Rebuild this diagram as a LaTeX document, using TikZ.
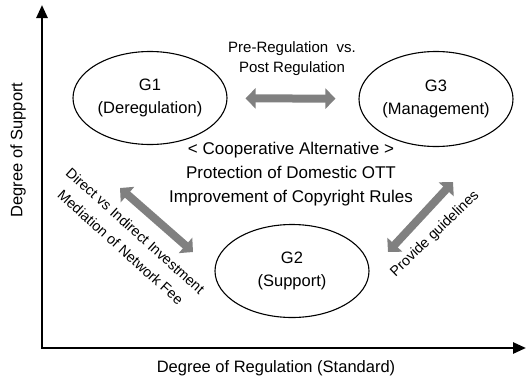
\documentclass[tikz,border=0pt]{standalone}
\usepackage{fontspec}
\setmainfont{Liberation Sans}
\usetikzlibrary{arrows.meta,shapes.geometric}
\begin{document}
\begin{tikzpicture}[x=1pt,y=-1pt,
  grp/.style={draw=black, line width=1.1pt, ellipse, minimum width=154pt, minimum height=93pt, inner sep=0pt, align=center, font=\fontsize{16.5}{23}\selectfont},
  lbl/.style={inner sep=0pt, align=center},
  garrow/.style={draw=gray, line width=8pt, {Triangle[length=10pt,width=20pt]}-{Triangle[length=10pt,width=20pt]}},
  axis/.style={draw=black, line width=2.6pt, line join=miter, {Triangle[length=13pt,width=11pt]}-{Triangle[length=13pt,width=11pt]}}]
\useasboundingbox (0,0) rectangle (527,383);
% axes
\coordinate (ytop) at (42,5);
\coordinate (o) at (42,348);
\coordinate (xend) at (526,348);
\draw[axis] (ytop) -- (o) -- (xend);
\node[lbl, rotate=90, font=\fontsize{16.5}{20}\selectfont] (ylab) at (18,150) {Degree of Support};
\node[lbl, font=\fontsize{16.5}{20}\selectfont] (xlab) at (276,368) {Degree of Regulation (Standard)};
% groups
\node[grp] (g1) at (150,98) {G1\\(Deregulation)};
\node[grp, minimum height=95pt] (g3) at (436,99) {G3\\(Management)};
\node[grp] (g2) at (292,271) {G2\\(Support)};
% connectors
\draw[garrow, shorten <=18pt, shorten >=23pt] (g1) -- (g3);
\coordinate (a1) at (120,188);
\coordinate (a2) at (193,252);
\draw[garrow] (a1) -- (a2);
\coordinate (b1) at (388,252);
\coordinate (b2) at (453,182);
\draw[garrow] (b1) -- (b2);
% labels
\node[lbl, font=\fontsize{15}{20}\selectfont] (pre) at (292,59) {Pre-Regulation\ \ vs.\\Post Regulation};
\node[lbl, font=\fontsize{17}{24}\selectfont] (coop) at (291,174) {< Cooperative Alternative >\\Protection of Domestic OTT\\Improvement of Copyright Rules};
\node[lbl, rotate=-42, font=\fontsize{14.3}{22}\selectfont] (inv) at (128,239) {Direct vs Indirect Investment\\Mediation of Network Fee};
\node[lbl, rotate=44, font=\fontsize{14.3}{20}\selectfont] (guide) at (435,234) {Provide guidelines};
\end{tikzpicture}
\end{document}
